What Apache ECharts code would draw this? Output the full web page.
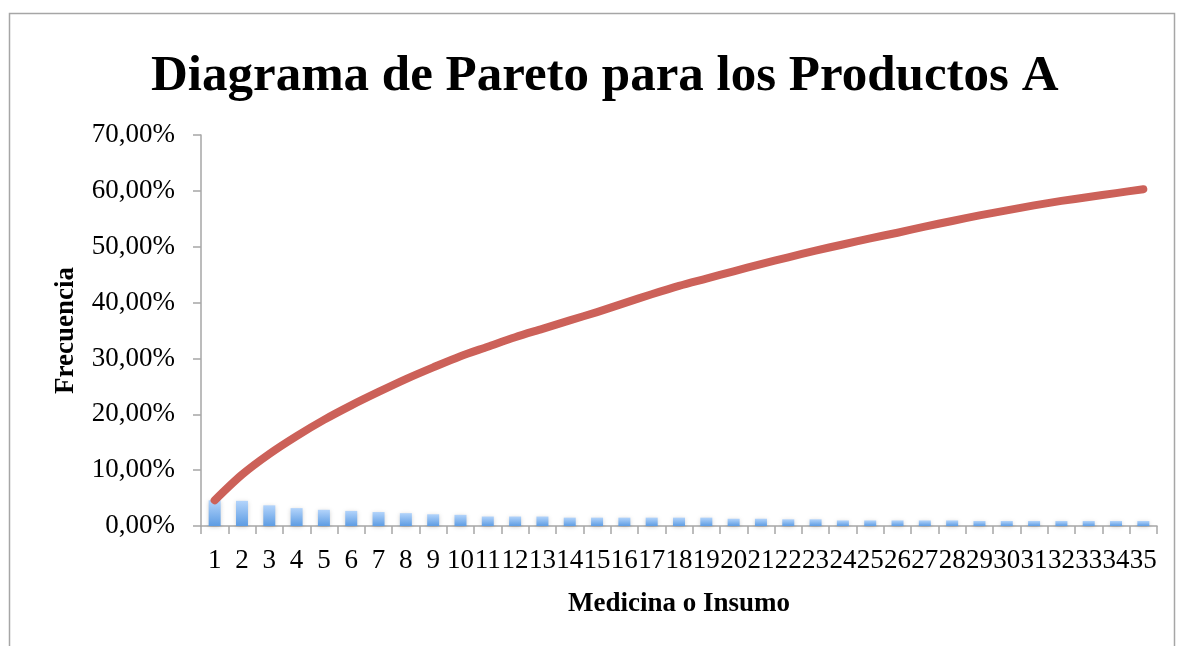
<!DOCTYPE html>
<html>
<head>
<meta charset="utf-8">
<script src="https://cdn.jsdelivr.net/npm/echarts@6/dist/echarts.min.js"></script>
<style>
  html, body { margin: 0; padding: 0; background: #fff; }
  #chart-container { width: 1178px; height: 646px; }
</style>
</head>
<body>
<div id="chart-container"></div>
<script>
// categories 1..35
var categorias = ['1','2','3','4','5','6','7','8','9','10','11','12','13','14','15','16','17','18','19','20',
  '21','22','23','24','25','26','27','28','29','30','31','32','33','34','35'];

// frecuencia relativa (%) de cada producto
var frecuencia = [4.6, 4.5, 3.7, 3.2, 2.9, 2.7, 2.5, 2.3, 2.1, 2.0,
  1.7, 1.7, 1.7, 1.5, 1.5, 1.5, 1.5, 1.5, 1.5, 1.3,
  1.3, 1.2, 1.2, 1.0, 1.0, 1.0, 1.0, 1.0, 0.9, 0.9,
  0.9, 0.9, 0.9, 0.9, 0.9];

// frecuencia acumulada (%)
var acumulada = [4.6, 9.2, 12.9, 16.1, 19.0, 21.6, 24.0, 26.3, 28.4, 30.4,
  32.1, 33.8, 35.3, 36.8, 38.3, 39.9, 41.5, 43.0, 44.3, 45.6,
  46.9, 48.1, 49.3, 50.4, 51.5, 52.5, 53.6, 54.6, 55.6, 56.5,
  57.4, 58.2, 58.9, 59.6, 60.3];

var yTicks = [0, 10, 20, 30, 40, 50, 60, 70];

var fuente = 'Liberation Serif';

var dom = document.getElementById('chart-container');
var myChart = echarts.init(dom, null, { renderer: 'canvas' });

var option = {
  animation: false,
  backgroundColor: '#fff',
  title: {
    text: 'Diagrama de Pareto para los Productos A',
    left: 146,
    top: 46,
    textStyle: { fontFamily: fuente, fontSize: 51, fontWeight: 'bold', color: '#000' }
  },
  graphic: [{
    type: 'rect',
    shape: { x: 9.5, y: 13.5, width: 1165, height: 700 },
    style: { fill: 'none', stroke: '#a6a6a6', lineWidth: 1.5 },
    silent: true
  }],
  grid: { left: 201, right: 21, top: 135, bottom: 120 },
  xAxis: {
    type: 'category',
    data: categorias,
    name: 'Medicina o Insumo',
    nameLocation: 'middle',
    nameGap: 65,
    nameTextStyle: { fontFamily: fuente, fontSize: 27, fontWeight: 'bold', color: '#000' },
    axisLine: { lineStyle: { color: '#a6a6a6', width: 1.5 } },
    axisTick: { show: true, length: 8, lineStyle: { color: '#a6a6a6', width: 1.5 } },
    axisLabel: { interval: 0, margin: 21, fontFamily: fuente, fontSize: 27, color: '#000' },
    splitLine: { show: false }
  },
  yAxis: {
    type: 'value',
    min: yTicks[0],
    max: yTicks[yTicks.length - 1],
    interval: 10,
    name: 'Frecuencia',
    nameLocation: 'middle',
    nameGap: 121,
    nameTextStyle: { fontFamily: fuente, fontSize: 27, fontWeight: 'bold', color: '#000' },
    axisLine: { show: true, lineStyle: { color: '#a6a6a6', width: 1.5 } },
    axisTick: { show: true, length: 8, lineStyle: { color: '#a6a6a6', width: 1.5 } },
    axisLabel: {
      margin: 26, fontFamily: fuente, fontSize: 27, color: '#000',
      formatter: function (v) { return v.toFixed(2).replace('.', ',') + '%'; }
    },
    splitLine: { show: false }
  },
  series: [
    {
      name: 'Frecuencia',
      type: 'bar',
      data: frecuencia,
      barWidth: 12,
      itemStyle: {
        color: new echarts.graphic.LinearGradient(0, 0, 0, 1, [
          { offset: 0, color: '#b3d4fb' },
          { offset: 1, color: '#5d9ce3' }
        ]),
        shadowColor: 'rgba(0,0,0,0.18)',
        shadowBlur: 4,
        shadowOffsetY: 1
      }
    },
    {
      name: 'Acumulada',
      type: 'line',
      data: acumulada,
      smooth: 0.3,
      symbol: 'none',
      lineStyle: { color: '#cc6159', width: 8, cap: 'round', join: 'round' },
      z: 3
    }
  ]
};

myChart.setOption(option);
window.addEventListener('resize', myChart.resize);
</script>
</body>
</html>
